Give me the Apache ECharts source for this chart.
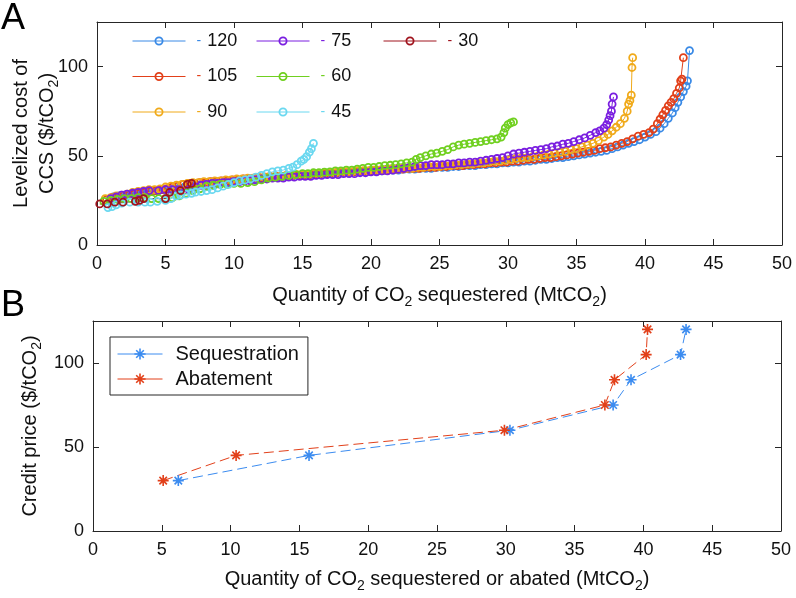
<!DOCTYPE html>
<html>
<head>
<meta charset="utf-8">
<script src="https://cdn.jsdelivr.net/npm/echarts@6/dist/echarts.min.js"></script>
<style>
  html, body { margin: 0; padding: 0; background: #fff; }
  #chart { width: 796px; height: 598px; }
</style>
</head>
<body>
<div id="chart"></div>
<script>
// panel A: levelized cost of CCS for each credit price (MtCO2, $/tCO2)
const names = ['120', '105', '90', '75', '60', '45', '30']
const colors = ['#3a8ae6', '#e2401a', '#f0aa1a', '#7a1ee0', '#70d020', '#6ad8f0', '#a0141e']

const s120 = [[1.2,27],[1.6,27.5],[2.0,28],[2.4,28.5],[2.8,29],[3.2,29.5],[3.6,29.5],[4.0,30],[4.4,30.5],[4.8,31],[5.2,31.5],[5.6,31.5],[6.0,32],[6.4,32.5],[6.8,33],[7.2,33.5],[7.6,34],[8.0,34.5],[8.4,34.5],[8.8,35],[9.2,35],[9.6,35.5],[10.0,36],[10.4,36],[10.8,36.5],[11.2,37],[11.6,37],[12.0,37.5],[12.4,37.5],[12.8,38],[13.2,38],[13.6,38.5],[14.0,38.5],[14.4,39],[14.8,39],[15.2,39],[15.6,39.5],[16.0,39.5],[16.4,40],[16.8,40],[17.2,40],[17.6,40.5],[18.0,40.5],[18.4,40.5],[18.8,41],[19.2,41],[19.6,41],[20.0,41.5],[20.4,41.5],[20.8,41.5],[21.2,42],[21.6,42],[22.0,42],[22.4,42.5],[22.8,42.5],[23.2,42.5],[23.6,43],[24.0,43],[24.4,43],[24.8,43.5],[25.2,43.5],[25.6,43.5],[26.0,44],[26.4,44],[26.8,44.5],[27.2,44.5],[27.6,44.5],[28.0,45],[28.4,45],[28.8,45.5],[29.2,45.5],[29.6,46],[30.0,46],[30.4,46.5],[30.8,46.5],[31.2,47],[31.6,47],[32.0,47.5],[32.4,48],[32.8,48],[33.2,48.5],[33.6,49],[34.0,49],[34.4,49.5],[34.8,50],[35.2,50.5],[35.6,51],[36.0,51.5],[36.4,52],[36.8,52.5],[37.2,53],[37.6,54],[38.0,55],[38.4,56],[38.8,57],[39.2,58],[39.6,59],[40.0,60.5],[40.4,62],[40.8,63.5],[41.1,65.5],[41.4,68],[41.7,71],[42.0,74],[42.2,77],[42.4,80],[42.6,83],[42.8,86],[43.0,89],[43.1,92],[43.25,109]]

const s105 = [[0.7,25.5],[1.1,26.5],[1.5,27],[1.9,27.5],[2.3,28],[2.7,28.5],[3.1,29],[3.5,29.5],[3.9,30],[4.3,30.5],[4.7,31],[5.1,31.5],[5.5,32.5],[5.9,33],[6.3,34],[6.7,34.5],[7.1,34.5],[7.5,35],[7.9,35],[8.3,35.5],[8.7,35.5],[9.1,36],[9.5,36],[9.9,36.5],[10.3,36.5],[10.7,37],[11.1,37],[11.5,37.5],[11.9,37.5],[12.3,38],[12.7,38],[13.1,38.5],[13.5,38.5],[13.9,39],[14.3,39],[14.7,39],[15.1,39.5],[15.5,39.5],[15.9,40],[16.3,40],[16.7,40],[17.1,40.5],[17.5,40.5],[17.9,41],[18.3,41],[18.7,41],[19.1,41.5],[19.5,41.5],[19.9,41.5],[20.3,42],[20.7,42],[21.1,42],[21.5,42.5],[21.9,42.5],[22.3,42.5],[22.7,43],[23.1,43],[23.5,43],[23.9,43.5],[24.3,43.5],[24.7,43.5],[25.1,44],[25.5,44],[25.9,44.5],[26.3,44.5],[26.7,44.5],[27.1,45],[27.5,45],[27.9,45.5],[28.3,45.5],[28.7,46],[29.1,46],[29.5,46.5],[29.9,46.5],[30.3,47],[30.7,47],[31.1,47.5],[31.5,48],[31.9,48],[32.3,48.5],[32.7,49],[33.1,49],[33.5,49.5],[33.9,50],[34.3,50.5],[34.7,51],[35.1,51.5],[35.5,52],[35.9,52.5],[36.3,53],[36.7,54],[37.1,54.5],[37.5,55],[37.9,56],[38.3,57],[38.7,58],[39.1,59.5],[39.5,61],[39.9,62],[40.3,63],[40.6,65],[40.9,68],[41.1,70.5],[41.3,73],[41.5,75.5],[41.7,78],[41.9,80],[42.1,82],[42.3,85],[42.5,88],[42.6,92],[42.7,93],[42.8,105]]

const s90 = [[0.6,26],[1.0,26.5],[1.4,27.5],[1.8,28],[2.2,28.5],[2.6,29.5],[3.0,30],[3.4,30.5],[3.8,31],[4.2,31],[4.6,31.5],[5.0,32.5],[5.4,33],[5.8,33.5],[6.2,34],[6.6,34.5],[7.0,35],[7.4,35],[7.8,35.5],[8.2,35.5],[8.6,36],[9.0,36],[9.4,36.5],[9.8,36.5],[10.2,37],[10.6,37],[11.0,37.5],[11.4,37.5],[11.8,38],[12.2,38],[12.6,38.5],[13.0,38.5],[13.4,38.5],[13.8,39],[14.2,39],[14.6,39.5],[15.0,39.5],[15.4,39.5],[15.8,40],[16.2,40],[16.6,40.5],[17.0,40.5],[17.4,40.5],[17.8,41],[18.2,41],[18.6,41],[19.0,41.5],[19.4,41.5],[19.8,41.5],[20.2,42],[20.6,42],[21.0,42],[21.4,42.5],[21.8,42.5],[22.2,43],[22.6,43],[23.0,43],[23.4,43.5],[23.8,43.5],[24.2,44],[24.6,44],[25.0,44],[25.4,44.5],[25.8,44.5],[26.2,45],[26.6,45],[27.0,45.5],[27.4,45.5],[27.8,46],[28.2,46],[28.6,46.5],[29.0,47],[29.4,47],[29.8,47.5],[30.2,48],[30.6,48.5],[31.0,49],[31.4,49],[31.8,49.5],[32.2,50],[32.6,50.5],[33.0,51],[33.4,51.5],[33.8,52],[34.2,52.5],[34.6,53.5],[35.0,54],[35.4,55],[35.8,56],[36.2,57],[36.6,58.5],[37.0,60.5],[37.3,62],[37.6,64],[37.9,66],[38.2,68],[38.5,71],[38.7,75],[38.8,79],[38.9,81],[39.0,84],[39.05,99.5],[39.1,105]]

const s75 = [[1.0,26],[1.4,27],[1.8,28],[2.2,28.5],[2.6,29],[3.0,29.5],[3.4,30],[3.8,30.5],[4.5,30.5],[5.0,31],[5.5,31],[6.0,31],[6.7,31],[7.2,32.5],[7.6,33.5],[8.0,34],[8.4,34.5],[8.8,34.5],[9.2,35],[9.6,35],[10.0,35.5],[10.4,35.5],[10.8,36],[11.2,36],[11.6,36.5],[12.0,37],[12.4,37],[12.8,37.5],[13.2,37.5],[13.6,37.5],[14.0,38],[14.4,38],[14.8,38.5],[15.2,38.5],[15.6,38.5],[16.0,39],[16.4,39],[16.8,39.5],[17.2,39.5],[17.6,39.5],[18.0,40],[18.4,40],[18.8,40],[19.2,40.5],[19.6,40.5],[20.0,41],[20.4,41],[20.8,41.5],[21.2,41.5],[21.6,42],[22.0,42.5],[22.4,43],[22.8,43.5],[23.2,44],[23.6,44.5],[24.0,44.5],[24.4,45],[24.8,45],[25.2,45],[25.6,45.5],[26.0,45.5],[26.4,46],[26.8,46],[27.2,46.5],[27.6,46.5],[28.0,47],[28.4,47.5],[28.8,48],[29.2,48.5],[29.6,49],[30.0,50],[30.4,51],[30.8,51.5],[31.2,52],[31.6,52.5],[32.0,53],[32.4,53.5],[32.8,54],[33.2,55],[33.6,55.5],[34.0,56.5],[34.4,57],[34.8,58],[35.2,59],[35.6,60],[36.0,61.5],[36.4,63],[36.7,64],[37.0,65.5],[37.2,67.5],[37.35,70],[37.45,72.5],[37.55,75],[37.6,79],[37.7,83]]

const s60 = [[0.5,24.5],[1.0,25],[1.5,25.5],[2.0,26],[2.5,26],[3.0,26.5],[3.5,26.5],[4.0,26],[4.5,26],[5.0,26],[5.5,26.5],[6.0,27.5],[6.5,29],[7.0,30.5],[7.5,31.5],[8.0,33],[8.5,33.5],[9.0,34],[9.5,34],[10.0,34.5],[10.5,34.5],[11.0,35],[11.5,35.5],[12.0,36.5],[12.5,37.5],[13.0,38],[13.5,38.5],[14.0,39],[14.5,39.5],[15.0,40],[15.4,40],[15.8,40.5],[16.2,40.5],[16.6,40.8],[17.0,41],[17.4,41.5],[17.8,41.5],[18.2,42],[18.6,42],[19.0,42.5],[19.4,43],[19.8,43.5],[20.2,43.5],[20.6,44],[21.0,44.5],[21.4,44.7],[21.8,45],[22.2,45.5],[22.6,46],[23.0,46.5],[23.3,48],[23.6,49],[24.0,50],[24.4,51],[24.8,51.5],[25.2,52.5],[25.6,53.5],[26.0,55],[26.4,56],[26.8,56.5],[27.2,57],[27.6,57.5],[28.0,58],[28.4,58.5],[28.8,59],[29.2,59.5],[29.5,60.5],[29.7,63],[29.8,65.5],[30.0,67.5],[30.2,68.5],[30.4,69]]

const s45 = [[0.8,21],[1.1,21.5],[1.4,22.5],[1.8,23.5],[2.4,24],[3.0,24],[3.5,24],[3.9,24],[4.4,24.5],[5.0,25],[5.4,26],[5.8,27.5],[6.1,28],[6.5,28.5],[6.9,29],[7.2,29.6],[7.6,30],[8.0,30.5],[8.4,31],[8.8,32],[9.2,33],[9.6,34],[10.0,35],[10.4,36],[10.8,36.5],[11.2,37],[11.6,38],[12.0,39],[12.4,40],[12.8,41],[13.2,41.5],[13.6,42],[14.0,43],[14.3,43.6],[14.6,45],[14.9,47],[15.1,48],[15.3,49.5],[15.5,52],[15.65,54],[15.8,57]]

const s30 = [[0.2,23],[0.75,23],[1.3,24],[1.9,24],[2.8,24.5],[3.1,25],[3.4,26],[5.0,26],[5.3,29.5],[6.1,30.5],[6.6,34],[6.9,34.5]]

const costSeries = [s120, s105, s90, s75, s60, s45, s30]

// panel B: credit price vs quantity
const priceLevels = [30, 45, 60, 75, 90, 105, 120]
const seqQty = [6.2, 15.7, 30.3, 37.8, 39.1, 42.7, 43.1]
const abateQty = [5.1, 10.4, 29.9, 37.2, 37.9, 40.2, 40.3]

const xTicks = { min: 0, max: 50, interval: 5 }
const yTicks = { min: 0, max: 125, interval: 50 }

const FONT = '"Liberation Sans", Arial, Helvetica, sans-serif'
const AX = '#262626'
const SUB = { s: { fontSize: 14, padding: [14, 0, 0, 0], fontFamily: FONT, color: '#111' } }
const ASTERISK = 'path://M5 0L5 10M0 5L10 5M1.6 1.6L8.4 8.4M1.6 8.4L8.4 1.6'

function axisBase(extra) {
  return {
    type: 'value',
    axisLine: { show: true, onZero: false, lineStyle: { color: AX, width: 1 } },
    axisTick: { show: true, inside: true, length: 6, lineStyle: { color: AX } },
    axisLabel: { show: false },
    splitLine: { show: false },
    ...extra,
  }
}

function xMain(gridIndex, name, gap) {
  return axisBase({
    gridIndex, position: 'bottom', ...xTicks,
    axisLabel: { color: '#111', fontSize: 18, margin: 10, fontFamily: FONT },
    name, nameLocation: 'middle', nameGap: gap,
    nameTextStyle: { color: '#111', fontSize: 20, fontFamily: FONT, rich: SUB },
  })
}

function yMain(gridIndex, name, gap) {
  return axisBase({
    gridIndex, position: 'left', ...yTicks,
    axisLabel: { color: '#111', fontSize: 18, margin: 9, fontFamily: FONT, formatter: (v) => (v % 50 === 0 ? String(v) : '') },
    name, nameLocation: 'middle', nameGap: gap, nameRotate: 90, nameMoveOverlap: false,
    nameTextStyle: { color: '#111', fontSize: 20, fontFamily: FONT, align: 'center', lineHeight: 26, rich: SUB },
  })
}

const dashRich = {}
colors.forEach((c, i) => { dashRich['d' + i] = { color: c, fontSize: 14, padding: [0, 6, 0, 6], fontFamily: FONT } })

function topLegend(left, data) {
  return {
    left, top: 30, orient: 'vertical', padding: 0, itemGap: 13.5,
    itemWidth: 53, itemHeight: 9, data,
    itemStyle: { borderWidth: 1.8 },
    lineStyle: { width: 1 },
    formatter: (n) => '{d' + names.indexOf(n) + '|-}' + n,
    textStyle: { color: '#111', fontSize: 18, lineHeight: 22, fontFamily: FONT, rich: dashRich },
  }
}

const series = costSeries.map((d, i) => ({
  name: names[i], type: 'line', xAxisIndex: 0, yAxisIndex: 0, data: d,
  symbol: 'circle', symbolSize: 7,
  itemStyle: { color: 'rgba(255,255,255,0)', borderColor: colors[i], borderWidth: 1.8 },
  lineStyle: { color: colors[i], width: 1 },
  emphasis: { disabled: true }, silent: true,
}))

const bSeries = [
  { name: 'Sequestration', qty: seqQty, color: '#3c8cf0' },
  { name: 'Abatement', qty: abateQty, color: '#e2401a' },
]
bSeries.forEach((b) => {
  series.push({
    name: b.name, type: 'line', xAxisIndex: 2, yAxisIndex: 2,
    data: b.qty.map((q, i) => [q, priceLevels[i]]),
    symbol: ASTERISK, symbolSize: 11,
    itemStyle: { color: b.color, borderColor: b.color, borderWidth: 1.6 },
    lineStyle: { color: b.color, width: 1, type: [10, 5] },
    emphasis: { disabled: true }, silent: true,
  })
})

const chart = echarts.init(document.getElementById('chart'), null, { renderer: 'canvas' })
chart.setOption({
  animation: false,
  backgroundColor: '#fff',
  title: [
    { text: 'A', left: 1, top: 1, padding: 0, textStyle: { fontSize: 36, fontWeight: 'normal', color: '#000', fontFamily: FONT } },
    { text: 'B', left: 1, top: 288, padding: 0, textStyle: { fontSize: 36, fontWeight: 'normal', color: '#000', fontFamily: FONT } },
  ],
  grid: [
    { left: 97, right: 14, top: 22, height: 223, containLabel: false, outerBoundsMode: 'none' },
    { left: 93, right: 15, top: 321, height: 210, containLabel: false, outerBoundsMode: 'none' },
  ],
  legend: [
    topLegend(132, ['120', '105', '90']),
    topLegend(256, ['75', '60', '45']),
    topLegend(383, ['30']),
    {
      left: 110, top: 337, orient: 'vertical', padding: [5, 9, 4, 7], itemGap: 1,
      itemWidth: 45, itemHeight: 14,
      data: ['Sequestration', 'Abatement'],
      borderColor: AX, borderWidth: 1, backgroundColor: '#fff',
      itemStyle: { borderWidth: 1.6 },
      lineStyle: { type: 'solid', width: 1 },
      formatter: (n) => '{t|' + n + '}',
      textStyle: { color: '#111', fontSize: 20, lineHeight: 24, fontFamily: FONT, rich: { t: { fontSize: 20, padding: [0, 0, 0, 8], fontFamily: FONT, color: '#111' } } },
    },
  ],
  xAxis: [
    xMain(0, 'Quantity of CO{s|2} sequestered (MtCO{s|2})', 36),
    axisBase({ gridIndex: 0, position: 'top', ...xTicks }),
    xMain(1, 'Quantity of CO{s|2} sequestered or abated (MtCO{s|2})', 34),
    axisBase({ gridIndex: 1, position: 'top', ...xTicks }),
  ],
  yAxis: [
    yMain(0, 'Levelized cost of\nCCS ($/tCO{s|2})', 37),
    axisBase({ gridIndex: 0, position: 'right', ...yTicks }),
    yMain(1, 'Credit price ($/tCO{s|2})', 50),
    axisBase({ gridIndex: 1, position: 'right', ...yTicks }),
  ],
  series,
})
</script>
</body>
</html>
